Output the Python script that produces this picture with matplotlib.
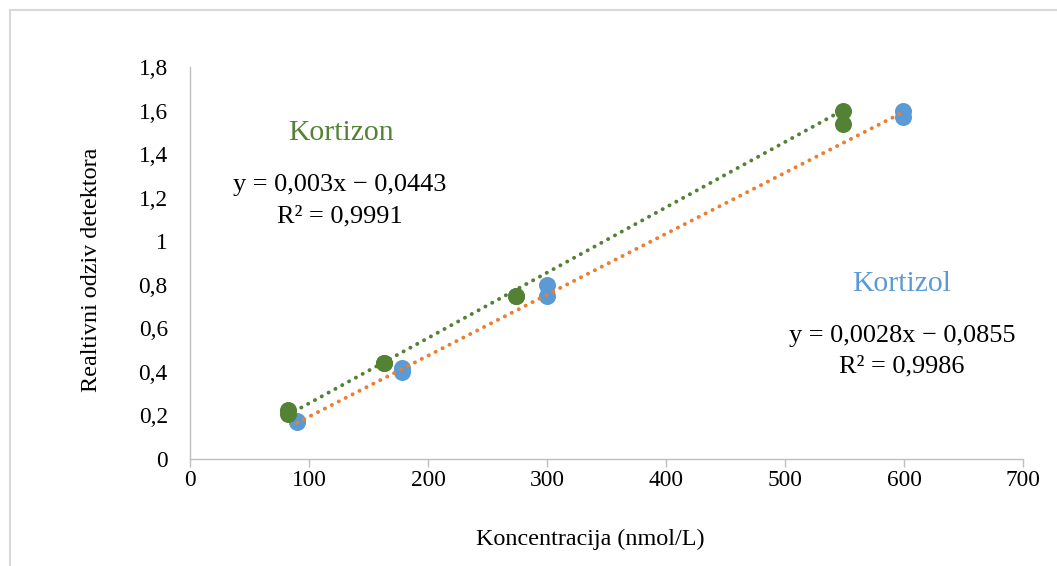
import numpy as np
import matplotlib
matplotlib.use("Agg")
import matplotlib.pyplot as plt
from matplotlib.lines import Line2D

plt.rcParams['font.family'] = ['Liberation Serif', 'DejaVu Serif']

# Kortizol (blue points, orange trendline)
kortizol_x = [90, 90, 178, 178, 300, 300, 599, 599]
kortizol_y = [0.17, 0.175, 0.42, 0.40, 0.80, 0.75, 1.60, 1.57]
kortizol_fit = [0.0028, -0.0855]
kortizol_r2 = "0,9986"

# Kortizon (green points, green trendline)
kortizon_x = [82, 82, 163, 163, 274, 274, 549, 549]
kortizon_y = [0.225, 0.207, 0.44, 0.44, 0.75, 0.75, 1.60, 1.54]
kortizon_fit = [0.003, -0.0443]
kortizon_r2 = "0,9991"

x_ticks = [0, 100, 200, 300, 400, 500, 600, 700]
y_ticks = [0, 0.2, 0.4, 0.6, 0.8, 1.0, 1.2, 1.4, 1.6, 1.8]

BLUE = '#5B9BD5'
ORANGE = '#ED7D31'
GREEN = '#548235'
AXIS_GRAY = '#BFBFBF'

fig = plt.figure(figsize=(10.57, 5.66), dpi=100)
ax = fig.add_axes([0.1798, 0.189, 0.788, 0.6926])


def num(v):
    return ('%g' % v).replace('.', ',')


ax.scatter(kortizol_x, kortizol_y, s=150, color=BLUE, zorder=3, linewidths=0)
ax.scatter(kortizon_x, kortizon_y, s=150, color=GREEN, zorder=4, linewidths=0)

dots = (0, (0.05, 1.95))
for xs, fit, col in [(kortizol_x, kortizol_fit, ORANGE), (kortizon_x, kortizon_fit, GREEN)]:
    xl = np.array([min(xs), max(xs)])
    ax.plot(xl, fit[0] * xl + fit[1], color=col, lw=2.8, linestyle=dots,
            dash_capstyle='round', zorder=5)

ax.set_xlim(0, 700)
ax.set_ylim(0, 1.8)
ax.set_xticks(x_ticks)
ax.set_yticks(y_ticks)
ax.set_xticklabels([num(v) for v in x_ticks], fontsize=16.8)
ax.set_yticklabels([num(round(v, 1)) for v in y_ticks], fontsize=16.8)
ax.tick_params(axis='x', length=6, color=AXIS_GRAY, width=1, pad=2)
ax.tick_params(axis='y', length=0, pad=16)
for side in ['top', 'right']:
    ax.spines[side].set_visible(False)
for side in ['bottom', 'left']:
    ax.spines[side].set_color(AXIS_GRAY)
    ax.spines[side].set_linewidth(1)

ax.set_xlabel('Koncentracija (nmol/L)', fontsize=17.4, labelpad=27)
ax.set_ylabel('Realtivni odziv detektora', fontsize=17.4, labelpad=26)
ax.xaxis.label.set_x(0.48)
ax.yaxis.label.set_y(0.483)


def eq_text(fit):
    return 'y = %sx \u2212 %s' % (num(fit[0]), num(abs(fit[1])))


fig.text(341 / 1057, 1 - 133 / 566, 'Kortizon', color=GREEN, fontsize=21.3,
         ha='center', va='center')
fig.text(340 / 1057, 1 - 185 / 566, eq_text(kortizon_fit), fontsize=18.9,
         ha='center', va='center')
fig.text(340 / 1057, 1 - 216 / 566, 'R\u00b2 = ' + kortizon_r2, fontsize=18.9,
         ha='center', va='center')

fig.text(902 / 1057, 1 - 284 / 566, 'Kortizol', color=BLUE, fontsize=21.3,
         ha='center', va='center')
fig.text(902 / 1057, 1 - 336 / 566, eq_text(kortizol_fit), fontsize=18.9,
         ha='center', va='center')
fig.text(902 / 1057, 1 - 366 / 566, 'R\u00b2 = ' + kortizol_r2, fontsize=18.9,
         ha='center', va='center')

# outer chart frame (only top and left are visible in the crop)
fy = 1 - 9.5 / 566
fx = 9.5 / 1057
fig.add_artist(Line2D([fx, 1], [fy, fy], color='#D9D9D9', lw=1.5, transform=fig.transFigure))
fig.add_artist(Line2D([fx, fx], [0, fy], color='#D9D9D9', lw=1.5, transform=fig.transFigure))

fig.savefig('out.png', dpi=100)
